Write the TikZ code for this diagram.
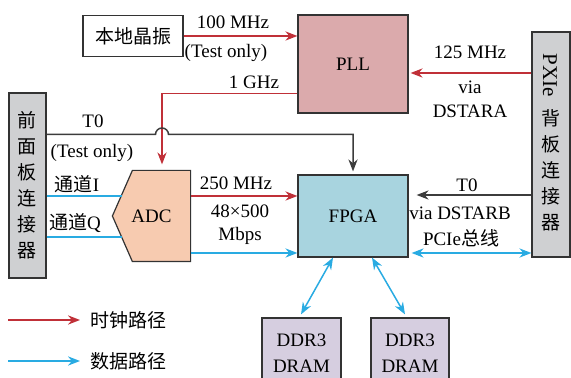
\documentclass[tikz,border=0pt]{standalone}
\usepackage{fontspec}
\setmainfont{Liberation Serif}
\newfontfamily\cjk{Noto Sans CJK SC}
\usepackage{tikz}
\usetikzlibrary{arrows.meta,backgrounds}
\definecolor{bdline}{RGB}{51,51,51}
\definecolor{bdred}{RGB}{192,48,56}
\definecolor{bdblue}{RGB}{41,171,226}
\definecolor{bdgray}{RGB}{60,60,60}
\definecolor{bdpll}{RGB}{219,170,172}
\definecolor{bdadc}{RGB}{247,203,176}
\definecolor{bdfpga}{RGB}{168,212,223}
\definecolor{bdddr}{RGB}{214,206,224}
\definecolor{bdconn}{RGB}{207,208,210}
\tikzset{
  bdbox/.style={draw=bdline, line width=0.6pt, inner sep=0pt, align=center,
    font=\fontsize{9.5}{13}\selectfont},
  bdlabel/.style={inner sep=0pt, align=center, font=\fontsize{9.5}{12}\selectfont},
  bdclk/.style={-{Stealth[length=6pt,width=4.6pt]}, line width=0.75pt, draw=bdred},
  bddat/.style={-{Stealth[length=6pt,width=4.6pt]}, line width=0.75pt, draw=bdblue},
  bdctl/.style={-{Stealth[length=6pt,width=4.6pt]}, line width=0.75pt, draw=bdgray},
  bdboth/.style={{Stealth[length=6pt,width=4.6pt]}-{Stealth[length=6pt,width=4.6pt]}},
  bdchan/.style={line width=0.75pt, draw=bdblue}
}

\begin{document}
\begin{tikzpicture}[x=0.5pt,y=-0.5pt]
  \useasboundingbox (0,0) rectangle (571,378);
  % blocks
  \node[bdbox, minimum width=50pt, minimum height=20.5pt, font=\cjk\fontsize{9.5}{13}\selectfont] (osc) at (133,36) {本地晶振};
  \node[bdbox, fill=bdpll, minimum width=55pt, minimum height=49pt] (pll) at (353,64) {PLL};
  \node[bdbox, fill=bdfpga, minimum width=55pt, minimum height=41pt] (fpga) at (353,216) {FPGA};
  \node[bdbox, draw=none, minimum width=38.5pt, minimum height=45pt] (adc) at (151.5,216) {ADC};
  \node[bdbox, fill=bdconn, minimum width=18.5pt, minimum height=92.5pt, font=\cjk\fontsize{9.5}{13}\selectfont] (fp) at (27.5,185.5) {前\\面\\板\\连\\接\\器};
  \node[bdbox, fill=bdconn, minimum width=19pt, minimum height=112.5pt] (pxie) at (551,144.5) {};
  \node[bdlabel, rotate=-90, font=\fontsize{10.5}{12}\selectfont] (pxieT) at (550,75) {PXIe};
  \node[bdlabel, font=\cjk\fontsize{9.5}{13}\selectfont] (pxieC) at (551,170) {背\\板\\连\\接\\器};
  \node[bdbox, fill=bdddr, minimum width=39.5pt, minimum height=35pt] (ddrA) at (301.5,353) {DDR3\\DRAM};
  \node[bdbox, fill=bdddr, minimum width=39pt, minimum height=35pt] (ddrB) at (410,353) {DDR3\\DRAM};
  \begin{scope}[on background layer]
    \draw[draw=bdline, line width=0.6pt, fill=bdadc] ([xshift=10pt]adc.north west) -- (adc.north east) -- (adc.south east) -- ([xshift=10pt]adc.south west) -- (adc.west) -- cycle;
  \end{scope}
  % labels
  \node[bdlabel] (lbA) at (233,22) {100 MHz};
  \node[bdlabel] (lbB) at (226,53) {(Test only)};
  \node[bdlabel] (lbC) at (254,82) {1 GHz};
  \node[bdlabel] (lbD) at (93,121) {T0};
  \node[bdlabel] (lbE) at (92,153) {(Test only)};
  \node[bdlabel] (lbF) at (470,52) {125 MHz};
  \node[bdlabel] (lbG) at (470,99) {via\\DSTARA};
  \node[bdlabel] (lbH) at (236,183) {250 MHz};
  \node[bdlabel, font=\fontsize{9.5}{11.5}\selectfont] (lbI) at (240,225) {48×500\\Mbps};
  \node[bdlabel] (lbJ) at (467,185) {T0};
  \node[bdlabel] (lbK) at (460,213) {via DSTARB};
  \node[bdlabel] (lbL) at (461,238) {PCIe{\cjk 总线}};
  \node[bdlabel] (lbM) at (77,184) {{\cjk 通道}I};
  \node[bdlabel] (lbN) at (75,223) {{\cjk 通道}Q};
  \node[bdlabel, anchor=west, font=\cjk\fontsize{9.5}{12}\selectfont] (lgclkt) at (90,320) {时钟路径};
  \node[bdlabel, anchor=west, font=\cjk\fontsize{9.5}{12}\selectfont] (lgdatt) at (90,361) {数据路径};
  % connection points
  \coordinate (pllout) at ([yshift=10pt]pll.south west);
  \coordinate (adcin) at ([xshift=5.25pt,yshift=3pt]adc.north);
  \coordinate (t0fp) at ([yshift=25.5pt]fp.east);
  \coordinate (hop) at (t0fp -| adcin);
  \coordinate (pllin) at ([xshift=1pt,yshift=-4.5pt]pll.east);
  \coordinate (adcclk) at ([yshift=10pt]adc.east);
  \coordinate (adcdat) at ([yshift=-18.5pt]adc.east);
  \coordinate (t0in) at ([xshift=4pt,yshift=10.5pt]fpga.east);
  \coordinate (pcie) at ([xshift=1.5pt,yshift=-18.5pt]fpga.east);
  \coordinate (chI) at (122,196);
  \coordinate (chQ) at (122,237);
  \coordinate (lgclk) at (8,320);
  \coordinate (lgdat) at (8,361);
  % connectors
  \draw[bdclk] (osc.east) -- (osc.east -| pll.west);
  \draw[bdclk] (pllout) -| (adcin);
  \draw[bdctl] (t0fp) -- ([xshift=-3.25pt]hop) arc[start angle=180, end angle=0, radius=3.25pt] -| ([yshift=1.5pt]fpga.north);
  \draw[bdclk] (pxie.west |- pllin) -- (pllin);
  \draw[bdclk] (adcclk) -- (adcclk -| fpga.west);
  \draw[bddat] (adcdat) -- (adcdat -| fpga.west);
  \draw[bdctl] (pxie.west |- t0in) -- (t0in);
  \draw[bddat, bdboth] (pcie) -- (pcie -| pxie.west);
  \draw[bddat, bdboth] ([xshift=-10pt]fpga.south) -- ([xshift=-0.25pt,yshift=1.5pt]ddrA.north);
  \draw[bddat, bdboth] ([xshift=9.5pt]fpga.south) -- ([xshift=-2.5pt,yshift=1.5pt]ddrB.north);
  \draw[bdchan] (fp.east |- chI) -- (chI);
  \draw[bdchan] (fp.east |- chQ) -- (chQ);
  % legend
  \draw[bdclk] (lgclk) -- ([xshift=-5pt]lgclkt.west);
  \draw[bddat] (lgdat) -- ([xshift=-5pt]lgdatt.west);
\end{tikzpicture}
\end{document}
